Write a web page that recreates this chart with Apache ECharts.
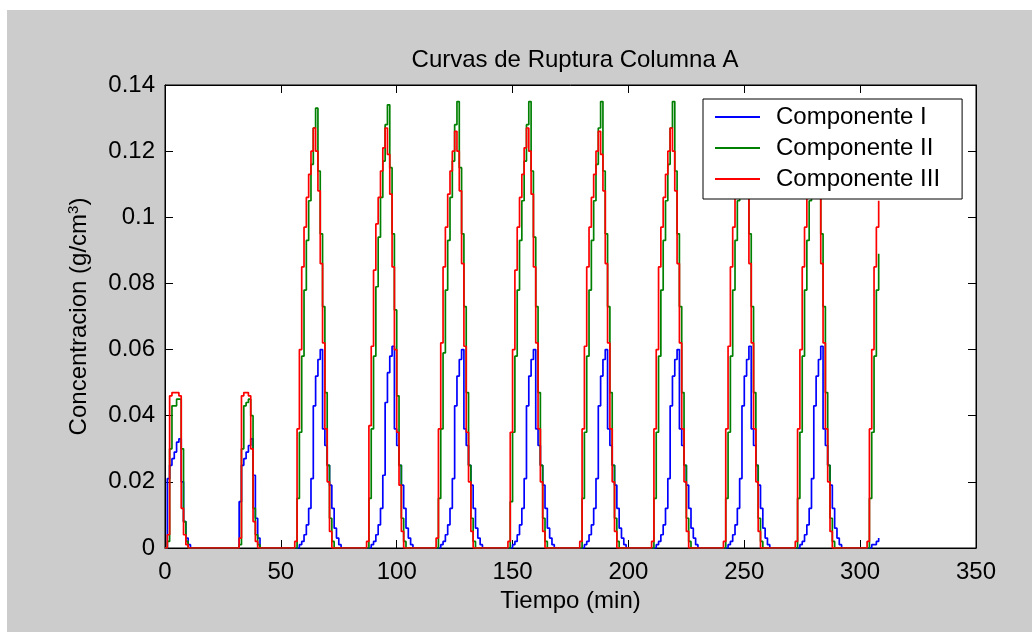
<!DOCTYPE html>
<html>
<head>
<meta charset="utf-8">
<script src="https://cdn.jsdelivr.net/npm/echarts@6/dist/echarts.min.js"></script>
<style>
  html, body { margin: 0; padding: 0; background: #ffffff; }
  #chart { width: 1032px; height: 632px; }
</style>
</head>
<body>
<div id="chart"></div>
<script>
// Breakthrough curves of column A: concentration (g/cm3) against time (min).
// Each series is a list of [time, concentration] samples, drawn as a staircase.

const seriesNames = ['Componente I', 'Componente II', 'Componente III'];
const seriesColors = ['#0000ff', '#008000', '#ff0000'];

const xTicks = [0, 50, 100, 150, 200, 250, 300, 350];
const yTicks = [0, 0.02, 0.04, 0.06, 0.08, 0.1, 0.12, 0.14];

const compI = [
  [0,0],[1,0.021],[2,0.025],[3,0.027],[4,0.029],[5,0.032],[6,0.033],[7,0.02],[8,0.008],[9,0.003],[10,0.001],[11,0],
  [31,0],[32,0.014],[33,0.025],[34,0.027],[35,0.029],[36,0.031],[37,0.033],[38,0.022],[39,0.009],[40,0.003],[41,0],
  [57,0],[58,0.001],[59,0.002],[60,0.004],[61,0.007],[62,0.012],[63,0.021],[64,0.043],[65,0.052],[66,0.057],[67,0.06],[68,0.036],[69,0.031],[70,0.025],[71,0.019],[72,0.012],[73,0.006],[74,0.003],[75,0.001],[76,0],
  [88,0],[89,0.001],[90,0.002],[91,0.004],[92,0.007],[93,0.012],[94,0.022],[95,0.044],[96,0.053],[97,0.058],[98,0.061],[99,0.036],[100,0.031],[101,0.025],[102,0.019],[103,0.012],[104,0.006],[105,0.003],[106,0.001],[107,0],
  [118,0],[119,0.001],[120,0.002],[121,0.004],[122,0.007],[123,0.012],[124,0.021],[125,0.043],[126,0.052],[127,0.057],[128,0.06],[129,0.036],[130,0.031],[131,0.025],[132,0.019],[133,0.012],[134,0.006],[135,0.003],[136,0.001],[137,0],
  [149,0],[150,0.001],[151,0.002],[152,0.004],[153,0.007],[154,0.012],[155,0.021],[156,0.043],[157,0.052],[158,0.057],[159,0.06],[160,0.036],[161,0.031],[162,0.025],[163,0.019],[164,0.012],[165,0.006],[166,0.003],[167,0.001],[168,0],
  [180,0],[181,0.001],[182,0.002],[183,0.004],[184,0.007],[185,0.012],[186,0.021],[187,0.043],[188,0.052],[189,0.057],[190,0.06],[191,0.036],[192,0.031],[193,0.025],[194,0.019],[195,0.012],[196,0.006],[197,0.003],[198,0.001],[199,0],
  [211,0],[212,0.001],[213,0.002],[214,0.004],[215,0.007],[216,0.012],[217,0.021],[218,0.043],[219,0.052],[220,0.057],[221,0.06],[222,0.036],[223,0.031],[224,0.025],[225,0.019],[226,0.012],[227,0.006],[228,0.003],[229,0.001],[230,0],
  [242,0],[243,0.001],[244,0.002],[245,0.004],[246,0.007],[247,0.012],[248,0.021],[249,0.043],[250,0.052],[251,0.057],[252,0.061],[253,0.036],[254,0.031],[255,0.025],[256,0.019],[257,0.012],[258,0.006],[259,0.003],[260,0.001],[261,0],
  [273,0],[274,0.001],[275,0.002],[276,0.004],[277,0.007],[278,0.012],[279,0.021],[280,0.043],[281,0.052],[282,0.057],[283,0.061],[284,0.036],[285,0.031],[286,0.025],[287,0.019],[288,0.012],[289,0.006],[290,0.003],[291,0.001],[292,0],
  [304,0],[305,0.001],[306,0.001],[307,0.002],[308,0.003]
];

const compII = [
  [0,0],[1,0.002],[2,0.03],[3,0.043],[4,0.043],[5,0.045],[6,0.045],[7,0.03],[8,0.008],[9,0.002],[10,0],
  [31,0],[32,0.001],[33,0.03],[34,0.043],[35,0.044],[36,0.045],[37,0.04],[38,0.012],[39,0.004],[40,0.001],[41,0],
  [56,0],[57,0.015],[58,0.035],[59,0.058],[60,0.078],[61,0.093],[62,0.105],[63,0.116],[64,0.127],[65,0.133],[66,0.114],[67,0.095],[68,0.073],[69,0.047],[70,0.025],[71,0.009],[72,0.002],[73,0],
  [87,0],[88,0.015],[89,0.036],[90,0.058],[91,0.079],[92,0.094],[93,0.106],[94,0.117],[95,0.128],[96,0.134],[97,0.115],[98,0.095],[99,0.072],[100,0.046],[101,0.025],[102,0.009],[103,0.002],[104,0],
  [117,0],[118,0.015],[119,0.036],[120,0.059],[121,0.078],[122,0.093],[123,0.106],[124,0.117],[125,0.128],[126,0.135],[127,0.115],[128,0.095],[129,0.073],[130,0.047],[131,0.025],[132,0.009],[133,0.002],[134,0],
  [148,0],[149,0.014],[150,0.035],[151,0.058],[152,0.078],[153,0.093],[154,0.105],[155,0.117],[156,0.128],[157,0.135],[158,0.114],[159,0.094],[160,0.073],[161,0.047],[162,0.025],[163,0.009],[164,0.002],[165,0],
  [179,0],[180,0.015],[181,0.035],[182,0.058],[183,0.078],[184,0.093],[185,0.105],[186,0.116],[187,0.127],[188,0.135],[189,0.114],[190,0.095],[191,0.073],[192,0.047],[193,0.025],[194,0.009],[195,0.002],[196,0],
  [210,0],[211,0.015],[212,0.035],[213,0.058],[214,0.078],[215,0.093],[216,0.105],[217,0.116],[218,0.127],[219,0.135],[220,0.114],[221,0.095],[222,0.073],[223,0.047],[224,0.025],[225,0.009],[226,0.002],[227,0],
  [241,0],[242,0.015],[243,0.035],[244,0.058],[245,0.078],[246,0.093],[247,0.105],[248,0.116],[249,0.127],[250,0.134],[251,0.114],[252,0.095],[253,0.073],[254,0.047],[255,0.025],[256,0.009],[257,0.002],[258,0],
  [272,0],[273,0.015],[274,0.035],[275,0.058],[276,0.078],[277,0.093],[278,0.105],[279,0.116],[280,0.127],[281,0.134],[282,0.114],[283,0.095],[284,0.073],[285,0.047],[286,0.025],[287,0.009],[288,0.002],[289,0],
  [303,0],[304,0.015],[305,0.035],[306,0.058],[307,0.078],[308,0.089]
];

const compIII = [
  [0,0],[1,0.004],[2,0.046],[3,0.047],[4,0.047],[5,0.047],[6,0.046],[7,0.012],[8,0.004],[9,0.001],[10,0],
  [31,0],[32,0.003],[33,0.046],[34,0.047],[35,0.047],[36,0.046],[37,0.03],[38,0.008],[39,0.002],[40,0],
  [55,0],[56,0.002],[57,0.036],[58,0.06],[59,0.085],[60,0.097],[61,0.106],[62,0.113],[63,0.12],[64,0.127],[65,0.12],[66,0.108],[67,0.086],[68,0.062],[69,0.036],[70,0.02],[71,0.005],[72,0],
  [86,0],[87,0.002],[88,0.037],[89,0.061],[90,0.084],[91,0.098],[92,0.106],[93,0.114],[94,0.121],[95,0.127],[96,0.119],[97,0.107],[98,0.085],[99,0.06],[100,0.035],[101,0.019],[102,0.005],[103,0],
  [116,0],[117,0.003],[118,0.036],[119,0.062],[120,0.085],[121,0.097],[122,0.107],[123,0.114],[124,0.12],[125,0.126],[126,0.12],[127,0.108],[128,0.086],[129,0.061],[130,0.035],[131,0.02],[132,0.005],[133,0],
  [147,0],[148,0.002],[149,0.035],[150,0.06],[151,0.084],[152,0.097],[153,0.106],[154,0.113],[155,0.121],[156,0.127],[157,0.12],[158,0.107],[159,0.085],[160,0.062],[161,0.036],[162,0.02],[163,0.005],[164,0],
  [178,0],[179,0.002],[180,0.036],[181,0.061],[182,0.085],[183,0.097],[184,0.106],[185,0.113],[186,0.12],[187,0.126],[188,0.119],[189,0.108],[190,0.086],[191,0.062],[192,0.036],[193,0.02],[194,0.005],[195,0],
  [209,0],[210,0.002],[211,0.036],[212,0.06],[213,0.085],[214,0.097],[215,0.106],[216,0.113],[217,0.12],[218,0.127],[219,0.12],[220,0.108],[221,0.086],[222,0.062],[223,0.036],[224,0.02],[225,0.005],[226,0],
  [240,0],[241,0.002],[242,0.036],[243,0.061],[244,0.085],[245,0.097],[246,0.106],[247,0.113],[248,0.12],[249,0.126],[250,0.12],[251,0.108],[252,0.086],[253,0.062],[254,0.036],[255,0.02],[256,0.005],[257,0],
  [271,0],[272,0.002],[273,0.036],[274,0.06],[275,0.085],[276,0.097],[277,0.106],[278,0.113],[279,0.12],[280,0.126],[281,0.12],[282,0.108],[283,0.086],[284,0.062],[285,0.036],[286,0.02],[287,0.005],[288,0],
  [302,0],[303,0.002],[304,0.036],[305,0.06],[306,0.085],[307,0.097],[308,0.105]
];

const FONT = "'Liberation Sans', Arial, Helvetica, sans-serif";
const AXIS_FONT_SIZE = 24;

const chart = echarts.init(document.getElementById('chart'), null, { renderer: 'canvas' });

function tickLabel(v) {
  if (v === 0) return '0';
  return String(Math.round(v * 100) / 100);
}

const boxLine = { show: true, onZero: false, lineStyle: { color: '#000000', width: 1 } };
const inTick = { show: true, inside: true, length: 8, lineStyle: { color: '#000000', width: 1 } };

const dataSets = [compI, compII, compIII];

const option = {
  backgroundColor: '#cccccc',
  animation: false,
  textStyle: { fontFamily: FONT },
  graphic: [
    { type: 'rect', shape: { x: 0, y: 0, width: 1032, height: 10 }, style: { fill: '#ffffff' }, silent: true },
    { type: 'rect', shape: { x: 0, y: 0, width: 7, height: 632 }, style: { fill: '#ffffff' }, silent: true }
  ],
  title: {
    text: 'Curvas de Ruptura Columna A',
    left: 570,
    top: 43,
    textAlign: 'center',
    textStyle: { fontFamily: FONT, fontSize: 24, fontWeight: 'normal', color: '#000000' }
  },
  legend: {
    orient: 'vertical',
    left: 703,
    top: 99,
    z: 20,
    padding: [6, 22, 8, 12],
    itemGap: 7,
    itemWidth: 45,
    itemHeight: 2,
    icon: 'rect',
    backgroundColor: '#ffffff',
    borderColor: '#000000',
    borderWidth: 1,
    borderRadius: 0,
    textStyle: { fontFamily: FONT, fontSize: 24, color: '#000000', padding: [0, 0, 0, 11] },
    data: seriesNames.map((n, i) => ({ name: n, itemStyle: { color: seriesColors[i] } }))
  },
  grid: {
    left: 165,
    top: 85,
    right: 56,
    bottom: 84,
    show: true,
    backgroundColor: '#ffffff',
    borderColor: '#000000',
    borderWidth: 1,
    outerBoundsMode: 'none'
  },
  xAxis: [
    {
      type: 'value',
      min: xTicks[0],
      max: xTicks[xTicks.length - 1],
      interval: xTicks[1] - xTicks[0],
      position: 'bottom',
      axisLine: boxLine,
      axisTick: inTick,
      splitLine: { show: false },
      axisLabel: { fontFamily: FONT, fontSize: AXIS_FONT_SIZE, color: '#000000', margin: 12 },
      name: 'Tiempo (min)',
      nameLocation: 'middle',
      nameGap: 40,
      nameTextStyle: { fontFamily: FONT, fontSize: AXIS_FONT_SIZE, color: '#000000', verticalAlign: 'top' }
    },
    {
      type: 'value',
      min: xTicks[0],
      max: xTicks[xTicks.length - 1],
      interval: xTicks[1] - xTicks[0],
      position: 'top',
      axisLine: boxLine,
      axisTick: inTick,
      splitLine: { show: false },
      axisLabel: { show: false }
    }
  ],
  yAxis: [
    {
      type: 'value',
      min: yTicks[0],
      max: yTicks[yTicks.length - 1],
      interval: 0.02,
      position: 'left',
      axisLine: boxLine,
      axisTick: inTick,
      splitLine: { show: false },
      axisLabel: { fontFamily: FONT, fontSize: AXIS_FONT_SIZE, color: '#000000', margin: 10, formatter: tickLabel },
      name: 'Concentracion (g/cm{sup|3})',
      nameLocation: 'middle',
      nameRotate: 90,
      nameGap: 72,
      nameTextStyle: {
        fontFamily: FONT, fontSize: AXIS_FONT_SIZE, color: '#000000',
        rich: { sup: { fontFamily: FONT, fontSize: 15, color: '#000000', verticalAlign: 'top', padding: [0, 0, 12, 0] } }
      }
    },
    {
      type: 'value',
      min: yTicks[0],
      max: yTicks[yTicks.length - 1],
      interval: 0.02,
      position: 'right',
      axisLine: boxLine,
      axisTick: inTick,
      splitLine: { show: false },
      axisLabel: { show: false }
    }
  ],
  series: dataSets.map((d, i) => ({
    name: seriesNames[i],
    type: 'line',
    step: 'end',
    data: d,
    xAxisIndex: 0,
    yAxisIndex: 0,
    symbol: 'none',
    showSymbol: false,
    clip: true,
    color: seriesColors[i],
    lineStyle: { color: seriesColors[i], width: 1.7 },
    emphasis: { disabled: true },
    z: 2 + i
  }))
};

chart.setOption(option);
</script>
</body>
</html>
